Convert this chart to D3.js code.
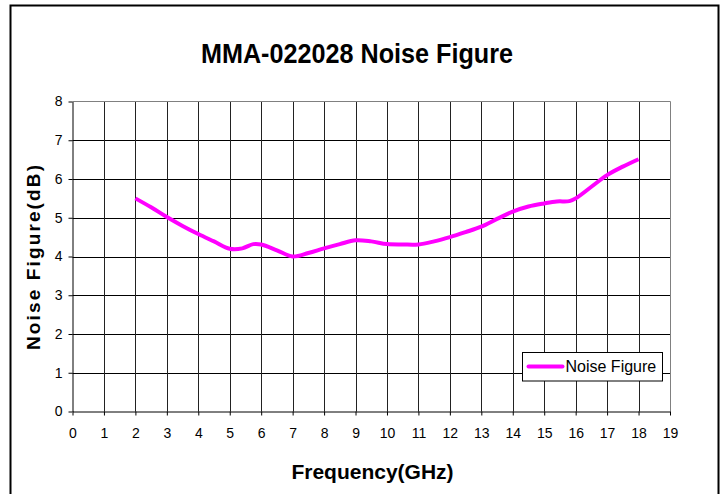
<!DOCTYPE html>
<html>
<head>
<meta charset="utf-8">
<script src="https://cdn.jsdelivr.net/npm/d3@7"></script>
<style>
  body { margin: 0; background: #fff; }
  text { font-family: Arial, "Liberation Sans", sans-serif; }
</style>
</head>
<body>
<div id="chart"></div>
<script>
// values
var freq = [2, 2.5, 3, 3.5, 4, 4.5, 5, 5.4, 5.75, 6, 6.5, 7, 7.5, 8, 8.5, 9, 9.5, 10, 10.5, 11,
  11.5, 12, 12.5, 13, 13.5, 14, 14.5, 15, 15.4, 15.8, 16, 16.5, 17, 17.5, 18]
var noiseFigure = [5.5, 5.27, 5.02, 4.79, 4.58, 4.39, 4.2, 4.21, 4.32, 4.31, 4.16, 4.0, 4.09, 4.21, 4.32, 4.42, 4.39, 4.32, 4.31, 4.31,
  4.39, 4.5, 4.63, 4.77, 4.97, 5.16, 5.29, 5.37, 5.42, 5.43, 5.5, 5.8, 6.1, 6.32, 6.51]
var xTicks = d3.range(0, 20)
var yTicks = d3.range(0, 9)
var seriesName = "Noise Figure"

var w = 725, h = 494
var margin = {top: 101.5, right: 55, bottom: 82.5, left: 72.5}
var x0 = margin.left, x1 = w - margin.right, y0 = h - margin.bottom, y1 = margin.top

var svg = d3.select("#chart").append("svg")
  .attr("width", w)
  .attr("height", h)

// outer frame
svg.append("rect")
  .attr("x", 10.5).attr("y", 5.5)
  .attr("width", 708).attr("height", 500)
  .attr("fill", "none").attr("stroke", "#000").attr("stroke-width", 2)

var xScale = d3.scaleLinear().domain([0, 19]).range([x0, x1])
var yScale = d3.scaleLinear().domain([0, 8]).range([y0, y1])

// grid
var grid = svg.append("g")
grid.selectAll(".hg").data(yTicks.slice(1, -1)).enter().append("line")
  .attr("x1", x0).attr("x2", x1)
  .attr("y1", d => Math.round(yScale(d)) + 0.5).attr("y2", d => Math.round(yScale(d)) + 0.5)
  .attr("stroke", "#000")
grid.selectAll(".vg").data(xTicks.slice(1, -1)).enter().append("line")
  .attr("x1", d => Math.round(xScale(d)) + 0.5).attr("x2", d => Math.round(xScale(d)) + 0.5)
  .attr("y1", y0).attr("y2", y1)
  .attr("stroke", "#222")

// plot area border (top / right are grey)
svg.append("path")
  .attr("d", "M" + x0 + "," + y1 + "H" + (Math.round(x1) + 0.5) + "V" + y0)
  .attr("fill", "none").attr("stroke", "#808080")

var xAxis = d3.axisBottom(xScale).tickValues(xTicks).tickSize(4).tickSizeOuter(0).tickPadding(13)
var yAxis = d3.axisLeft(yScale).tickValues(yTicks).tickSize(4).tickSizeOuter(0).tickPadding(6)

svg.append("g")
  .attr("transform", "translate(0," + y0 + ")")
  .call(xAxis)
  .call(g => g.selectAll("text").attr("font-size", 14).attr("font-family", "Arial, 'Liberation Sans', sans-serif").attr("fill", "#000"))
  .call(g => g.selectAll("line,path").attr("stroke", "#000"))

svg.append("g")
  .attr("transform", "translate(" + x0 + ",0)")
  .call(yAxis)
  .call(g => g.selectAll("text").attr("font-size", 14).attr("font-family", "Arial, 'Liberation Sans', sans-serif").attr("fill", "#000"))
  .call(g => g.selectAll("line,path").attr("stroke", "#000"))

var line = d3.line()
  .curve(d3.curveCatmullRom.alpha(0.5))
  .x((d, i) => xScale(freq[i]))
  .y(d => yScale(d))

svg.append("path")
  .attr("d", line(noiseFigure))
  .attr("fill", "none")
  .attr("stroke", "#ff00ff")
  .attr("stroke-width", 4)
  .attr("stroke-linejoin", "round")

// titles
svg.append("text")
  .attr("x", 357).attr("y", 63)
  .attr("text-anchor", "middle")
  .attr("font-size", 27).attr("font-weight", "bold")
  .attr("textLength", 312).attr("lengthAdjust", "spacingAndGlyphs")
  .text("MMA-022028 Noise Figure")

svg.append("text")
  .attr("x", 372.5).attr("y", 479)
  .attr("text-anchor", "middle")
  .attr("font-size", 21).attr("font-weight", "bold")
  .text("Frequency(GHz)")

svg.append("text")
  .attr("transform", "translate(40,257.5) rotate(-90)")
  .attr("text-anchor", "middle")
  .attr("font-size", 19).attr("font-weight", "bold")
  .attr("textLength", 185).attr("lengthAdjust", "spacing")
  .text("Noise Figure(dB)")

// legend
var legend = svg.append("g").attr("transform", "translate(522.5,352.5)")
legend.append("rect")
  .attr("width", 140).attr("height", 28.5)
  .attr("fill", "#fff").attr("stroke", "#000")
legend.append("line")
  .attr("x1", 6).attr("x2", 40).attr("y1", 14).attr("y2", 14)
  .attr("stroke", "#ff00ff").attr("stroke-width", 4).attr("stroke-linecap", "round")
legend.append("text")
  .attr("x", 43).attr("y", 19.5)
  .attr("font-size", 16)
  .text(seriesName)
</script>
</body>
</html>
